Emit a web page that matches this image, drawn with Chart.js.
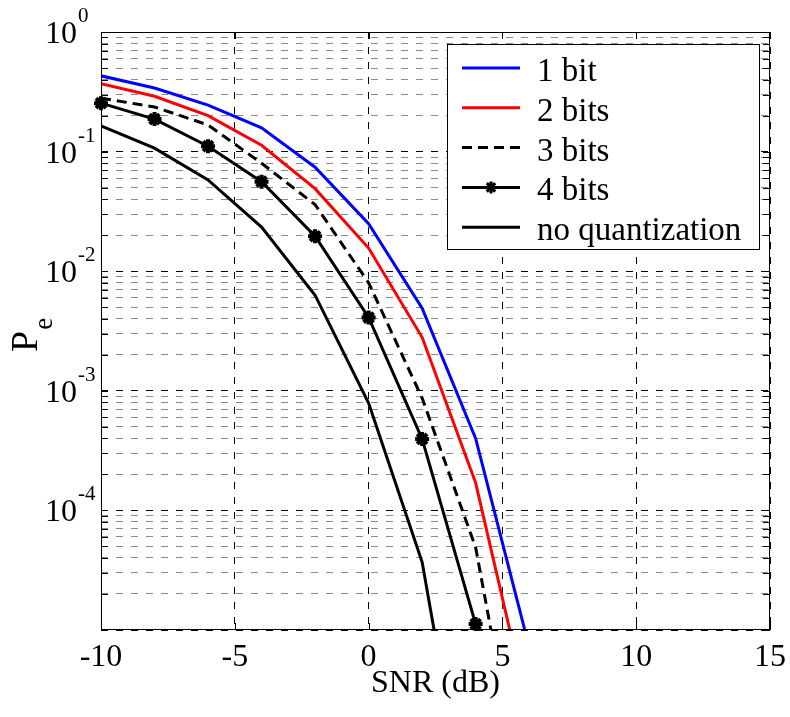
<!DOCTYPE html>
<html>
<head>
<meta charset="utf-8">
<script src="https://cdn.jsdelivr.net/npm/chart.js@4.4.0/dist/chart.umd.min.js"></script>
<style>
  html, body { margin: 0; padding: 0; background: #fff; }
  #wrap { width: 790px; height: 717px; }
</style>
</head>
<body>
<div id="wrap"><canvas id="pe" width="790" height="717"></canvas></div>
<script>
const FONT = "'Liberation Serif', 'Times New Roman', serif";

// SNR points (dB)
const snr = [-10, -8, -6, -4, -2, 0, 2, 4, 6];

// error probability
const oneBit = [0.43, 0.34, 0.245, 0.158, 0.074, 0.025, 0.0049, 4.0e-4, 7.2e-6];
const twoBits = [0.37, 0.29, 0.20, 0.113, 0.049, 0.0156, 0.0028, 1.7e-4, 2.0e-6];
const threeBits = [0.28, 0.236, 0.167, 0.080, 0.036, 0.0080, 8.7e-4, 4.9e-5, 1.9e-7];
const fourBits = [0.254, 0.187, 0.111, 0.056, 0.0196, 0.0041, 3.96e-4, 1.12e-5];
const noQuant = [0.164, 0.107, 0.058, 0.0234, 0.0063, 7.9e-4, 3.7e-5, 1.07e-7];

const xTicks = [-10, -5, 0, 5, 10, 15];
const yExponents = [0, -1, -2, -3, -4];   // labelled decades
const yGrid = [];
for (let e = -5; e < 0; e++) {
  for (let m = 1; m <= 9; m++) yGrid.push(m * Math.pow(10, e));
}
yGrid.push(1);

const isDecade = (v) => Math.abs(Math.log10(v) - Math.round(Math.log10(v))) < 1e-9;
const pts = (ys) => ys.map((y, i) => ({ x: snr[i], y }));

// MATLAB-ish box, inward ticks, superscript y labels, P_e, legend
const decor = {
  id: "decor",
  afterDatasetsDraw(chart) {
    const { ctx, chartArea: a, scales } = chart;
    ctx.save();
    ctx.strokeStyle = "#000";
    ctx.lineWidth = 1;
    ctx.setLineDash([]);
    ctx.beginPath();
    for (const v of yGrid) {
      const y = Math.round(scales.y.getPixelForValue(v)) + 0.5;
      ctx.moveTo(a.left, y); ctx.lineTo(a.left + 7, y);
      ctx.moveTo(a.right, y); ctx.lineTo(a.right - 7, y);
    }
    for (const v of xTicks) {
      const x = Math.round(scales.x.getPixelForValue(v)) + 0.5;
      ctx.moveTo(x, a.bottom); ctx.lineTo(x, a.bottom - 7);
      ctx.moveTo(x, a.top); ctx.lineTo(x, a.top + 7);
    }
    ctx.stroke();
    ctx.strokeRect(a.left + 0.5, a.top + 0.5, a.right - a.left - 1, a.bottom - a.top - 1);
    ctx.restore();
  },
  afterDraw(chart) {
    const { ctx, chartArea: a, scales } = chart;
    ctx.save();
    ctx.fillStyle = "#000";

    // y tick labels 10^k
    for (const e of yExponents) {
      const y = scales.y.getPixelForValue(Math.pow(10, e));
      ctx.font = `32px ${FONT}`;
      ctx.textAlign = "right";
      ctx.textBaseline = "alphabetic";
      ctx.fillText("10", a.left - 24, y + 11);
      ctx.font = `21px ${FONT}`;
      ctx.textAlign = "left";
      ctx.fillText(String(e), a.left - 23, y - 10);
    }

    // y axis title P_e
    ctx.save();
    ctx.translate(37, 352);
    ctx.rotate(-Math.PI / 2);
    ctx.font = `38px ${FONT}`;
    ctx.textAlign = "left";
    ctx.textBaseline = "alphabetic";
    ctx.fillText("P", 0, 0);
    const pw = ctx.measureText("P").width;
    ctx.font = `27px ${FONT}`;
    ctx.fillText("e", pw + 1, 15);
    ctx.restore();

    // legend box
    const bx = 447, by = 44, bw = 312, bh = 205;
    ctx.fillStyle = "#fff";
    ctx.fillRect(bx, by, bw, bh);
    ctx.strokeStyle = "#000";
    ctx.lineWidth = 1;
    ctx.strokeRect(bx + 0.5, by + 0.5, bw, bh);
    chart.data.datasets.forEach((ds, i) => {
      const y = 68 + i * 39.8;
      ctx.strokeStyle = ds.borderColor;
      ctx.lineWidth = ds.borderWidth;
      ctx.setLineDash(ds.borderDash || []);
      ctx.beginPath();
      ctx.moveTo(462, y);
      ctx.lineTo(520, y);
      ctx.stroke();
      ctx.setLineDash([]);
      if (ds.pointRadius > 0) {
        Chart.helpers.drawPoint(ctx, {
          pointStyle: ds.pointStyle,
          radius: 6,
          borderWidth: ds.pointBorderWidth,
          rotation: 0,
        }, 491, y);
      }
      ctx.fillStyle = "#000";
      ctx.font = `33px ${FONT}`;
      ctx.textAlign = "left";
      ctx.textBaseline = "alphabetic";
      ctx.fillText(ds.label, 537, y + 13);
    });
    ctx.restore();
  },
};

const lineDefaults = {
  borderWidth: 3,
  pointRadius: 0,
  pointHoverRadius: 0,
  tension: 0,
  fill: false,
  clip: 0,
};

new Chart(document.getElementById("pe"), {
  type: "line",
  data: {
    datasets: [
      { ...lineDefaults, label: "1 bit", data: pts(oneBit), borderColor: "#0000ff" },
      { ...lineDefaults, label: "2 bits", data: pts(twoBits), borderColor: "#ff0000" },
      { ...lineDefaults, label: "3 bits", data: pts(threeBits), borderColor: "#000", borderDash: [10, 6] },
      {
        ...lineDefaults,
        label: "4 bits",
        data: pts(fourBits),
        borderColor: "#000",
        pointStyle: "star",
        pointRadius: 7,
        pointBorderWidth: 4,
        pointBackgroundColor: "#000",
        pointBorderColor: "#000",
        clip: false,
      },
      { ...lineDefaults, label: "no quantization", data: pts(noQuant), borderColor: "#000" },
    ],
  },
  options: {
    responsive: false,
    animation: false,
    devicePixelRatio: 1,
    layout: { padding: { top: 32, right: 20, bottom: 0, left: 0 } },
    plugins: {
      legend: { display: false },
      tooltip: { enabled: false },
    },
    scales: {
      x: {
        type: "linear",
        min: -10,
        max: 15,
        afterBuildTicks: (scale) => {
          scale.ticks = xTicks.map((v) => ({ value: v }));
        },
        afterFit: (scale) => {
          scale.height = 87;
          scale.paddingLeft = 0;
          scale.paddingRight = 0;
        },
        ticks: {
          color: "#000",
          padding: 8,
          font: { family: FONT, size: 32 },
          callback: (v) => String(v),
        },
        grid: { color: "#000", lineWidth: 1, drawTicks: false },
        border: { display: false, dash: [7, 8] },
        title: {
          display: true,
          text: "SNR (dB)",
          color: "#000",
          font: { family: FONT, size: 32 },
          padding: { top: 0, bottom: 14 },
        },
      },
      y: {
        type: "logarithmic",
        min: 1e-5,
        max: 1,
        afterBuildTicks: (scale) => {
          scale.ticks = yGrid.map((v) => ({ value: v, major: isDecade(v) }));
        },
        afterFit: (scale) => {
          scale.width = 101;
          scale.paddingTop = 0;
          scale.paddingBottom = 0;
        },
        ticks: { display: false },
        grid: {
          lineWidth: 1,
          drawTicks: false,
          color: (c) => (c.tick && isDecade(c.tick.value) ? "#000" : "#8a8a8a"),
        },
        border: { display: false, dash: [7, 8] },
      },
    },
  },
  plugins: [decor],
});
</script>
</body>
</html>
